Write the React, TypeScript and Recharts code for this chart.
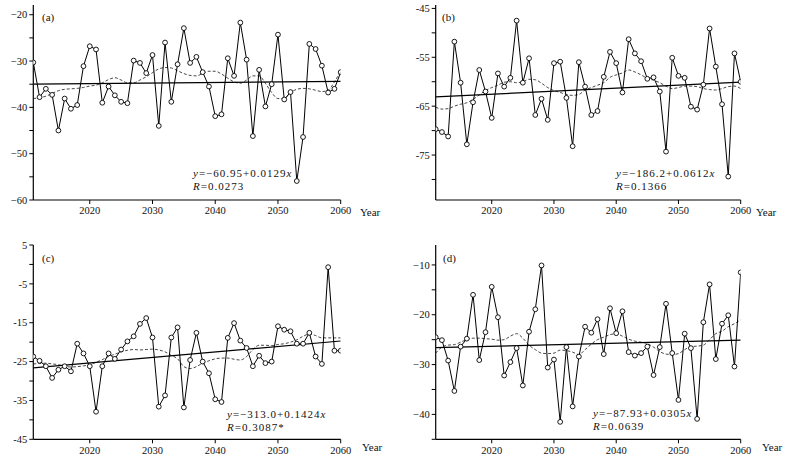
import React from 'react';
import { LineChart, Line, XAxis, YAxis } from 'recharts';

const years = [2011, 2012, 2013, 2014, 2015, 2016, 2017, 2018, 2019, 2020, 2021, 2022, 2023, 2024, 2025, 2026, 2027, 2028, 2029, 2030, 2031, 2032, 2033, 2034, 2035, 2036, 2037, 2038, 2039, 2040, 2041, 2042, 2043, 2044, 2045, 2046, 2047, 2048, 2049, 2050, 2051, 2052, 2053, 2054, 2055, 2056, 2057, 2058, 2059, 2060];

const seriesA = [-30.3, -37.8, -36.0, -37.3, -45.0, -38.1, -40.3, -39.5, -31.1, -26.8, -27.5, -39.0, -35.5, -37.4, -38.8, -39.1, -29.9, -30.4, -32.6, -28.7, -44.0, -26.0, -38.8, -30.7, -22.9, -30.4, -29.1, -32.4, -35.5, -41.9, -41.5, -29.4, -33.2, -21.7, -29.7, -46.2, -31.9, -39.8, -35.0, -24.3, -38.3, -36.7, -55.9, -46.4, -26.3, -27.4, -31.0, -36.8, -36.0, -32.4];
const smoothA = [-38.1, -37.9, -37.6, -37.0, -36.4, -36.1, -36.0, -35.9, -35.7, -35.4, -35.2, -34.7, -34.0, -33.6, -34.1, -34.7, -34.7, -34.1, -33.4, -32.5, -31.7, -31.4, -31.5, -32.1, -32.7, -33.1, -33.2, -32.7, -32.2, -32.2, -32.8, -33.7, -34.5, -34.8, -34.1, -33.2, -33.2, -34.8, -36.8, -38.1, -38.1, -36.8, -36.1, -35.9, -36.0, -36.3, -36.6, -36.3, -34.5, -32.1];
const trendA = [-35.0, -34.4];

const seriesB = [-69.7, -70.3, -71.2, -51.8, -60.2, -72.8, -64.2, -57.6, -62.0, -67.4, -58.3, -61.0, -59.2, -47.5, -60.2, -55.2, -66.8, -63.5, -67.8, -56.2, -55.9, -63.3, -73.2, -56.0, -61.0, -66.8, -66.0, -59.0, -53.9, -56.2, -62.2, -51.3, -54.2, -55.8, -59.4, -59.1, -62.0, -74.3, -55.1, -58.8, -59.2, -65.1, -65.7, -60.6, -49.1, -56.9, -64.6, -79.4, -54.2, -60.0];
const smoothB = [-65.2, -65.6, -65.5, -65.0, -64.6, -64.3, -63.6, -62.7, -61.8, -61.2, -60.7, -60.1, -60.0, -60.2, -60.0, -59.5, -59.6, -60.3, -61.2, -61.8, -62.2, -62.6, -62.8, -62.6, -61.7, -61.2, -60.7, -60.2, -59.1, -58.6, -58.2, -57.6, -58.0, -58.6, -59.3, -59.7, -60.2, -60.9, -61.4, -61.2, -60.9, -60.9, -61.0, -61.4, -61.6, -61.7, -61.4, -61.0, -60.9, -61.4];
const trendB = [-63.1, -60.1];

const seriesC = [-23.7, -24.8, -26.2, -29.2, -27.1, -26.2, -27.5, -20.4, -22.9, -26.2, -37.9, -26.2, -22.9, -24.3, -21.9, -19.8, -18.5, -15.3, -13.8, -18.8, -36.6, -33.7, -18.8, -16.2, -36.8, -24.6, -17.6, -25.0, -28.0, -34.7, -35.4, -18.9, -15.1, -19.6, -21.5, -26.2, -23.5, -25.4, -25.0, -15.9, -16.8, -17.2, -20.4, -20.4, -17.6, -23.7, -25.6, -0.7, -22.2, -22.2];
const smoothC = [-25.6, -25.5, -25.4, -25.6, -25.8, -26.2, -26.4, -26.3, -26.1, -25.8, -25.2, -24.5, -23.7, -23.1, -22.5, -22.1, -21.9, -22.0, -21.9, -21.8, -22.0, -22.5, -23.4, -24.3, -26.3, -26.8, -26.3, -25.4, -24.8, -24.3, -24.1, -24.1, -24.4, -24.6, -23.7, -21.9, -20.8, -20.8, -20.9, -20.6, -20.4, -20.0, -19.4, -18.5, -17.9, -18.3, -18.9, -18.9, -18.9, -18.9];
const trendC = [-26.6, -19.7];

const seriesD = [-24.5, -25.1, -29.2, -35.3, -26.4, -24.8, -16.0, -29.1, -23.5, -14.4, -20.5, -32.2, -29.5, -26.7, -34.2, -23.4, -18.9, -10.1, -30.6, -29.0, -41.5, -26.5, -38.4, -28.4, -22.4, -23.6, -20.9, -27.9, -18.7, -23.7, -19.3, -27.5, -28.2, -27.7, -26.4, -32.1, -26.5, -17.8, -27.7, -37.1, -23.8, -26.7, -40.9, -21.5, -13.9, -28.9, -21.8, -20.1, -30.4, -11.5];
const smoothD = [-27.7, -26.5, -26.1, -26.0, -25.5, -25.0, -24.7, -24.7, -24.8, -24.9, -25.1, -25.0, -24.3, -23.8, -24.7, -26.1, -27.0, -27.7, -27.8, -27.7, -27.1, -27.2, -27.5, -28.0, -27.0, -25.9, -25.0, -24.5, -24.0, -23.8, -24.3, -24.9, -25.3, -25.5, -25.8, -26.5, -27.4, -27.9, -28.0, -27.8, -27.0, -26.4, -26.3, -26.1, -25.0, -23.8, -23.3, -22.4, -21.8, -21.0];
const trendD = [-26.6, -25.1];

const trendYears = [2011, 2060];
const xTicks = [2020, 2030, 2040, 2050, 2060];

const yTicksA = [-60, -55, -50, -45, -40, -35, -30, -25, -20];
const yLabelsA = [-60, -50, -40, -30, -20];
const yTicksB = [-80, -75, -70, -65, -60, -55, -50, -45];
const yLabelsB = [-75, -65, -55, -45];
const yTicksC = [-45, -40, -35, -30, -25, -20, -15, -10, -5, 0, 5];
const yLabelsC = [-45, -35, -25, -15, -5, 5];
const yTicksD = [-45, -40, -35, -30, -25, -20, -15, -10];
const yLabelsD = [-40, -30, -20, -10];

const FONT = '"Liberation Serif", "Times New Roman", serif';

type PanelProps = {
  left: number;
  top: number;
  width: number;
  height: number;
  margin: { top: number; right: number; left: number; bottom: number };
  yAxisWidth: number;
  xAxisHeight: number;
  series: number[];
  smooth: number[];
  trend: number[];
  yDomain: [number, number];
  yTicks: number[];
  yLabels: number[];
  minus: string;
};

function Panel(p: PanelProps) {
  const data = years.map((year, i) => ({ year, v: p.series[i], s: p.smooth[i] }));
  const trendData = trendYears.map((year, i) => ({ year, t: p.trend[i] }));
  const fmtY = (v: number) => {
    if (!p.yLabels.includes(v)) return '';
    return v < 0 ? p.minus + Math.abs(v) : String(v);
  };
  const tickStyle = { fill: '#111', fontSize: 10.5, fontFamily: FONT };
  return (
    <div style={{ position: 'absolute', left: p.left, top: p.top }}>
      <LineChart width={p.width} height={p.height} data={data} margin={p.margin}>
        <XAxis
          xAxisId="b"
          dataKey="year"
          type="number"
          domain={[2011, 2060]}
          ticks={xTicks}
          height={p.xAxisHeight}
          tickSize={4}
          tickMargin={3}
          tick={tickStyle}
          stroke="#000"
          axisLine={{ stroke: '#000', strokeWidth: 1.2 }}
          tickLine={{ stroke: '#000' }}
          allowDataOverflow
        />
        <XAxis
          xAxisId="t"
          orientation="top"
          dataKey="year"
          type="number"
          domain={[2011, 2060]}
          height={0}
          tick={false}
          tickLine={false}
          axisLine={{ stroke: '#000', strokeWidth: 1.2 }}
        />
        <YAxis
          yAxisId="l"
          type="number"
          domain={p.yDomain}
          ticks={p.yTicks}
          tickFormatter={fmtY}
          width={p.yAxisWidth}
          tickSize={4}
          tickMargin={2}
          tick={tickStyle}
          axisLine={{ stroke: '#000', strokeWidth: 1.2 }}
          tickLine={{ stroke: '#000' }}
          interval={0}
          allowDataOverflow
        />
        <YAxis
          yAxisId="r"
          orientation="right"
          type="number"
          domain={p.yDomain}
          width={0}
          tick={false}
          tickLine={false}
          axisLine={{ stroke: '#000', strokeWidth: 1.2 }}
        />
        <Line
          xAxisId="b"
          yAxisId="l"
          dataKey="s"
          stroke="#333"
          strokeWidth={0.9}
          strokeDasharray="3 2"
          dot={false}
          type="monotone"
          isAnimationActive={false}
        />
        <Line
          xAxisId="b"
          yAxisId="l"
          data={trendData}
          dataKey="t"
          stroke="#000"
          strokeWidth={1.2}
          dot={false}
          isAnimationActive={false}
        />
        <Line
          xAxisId="b"
          yAxisId="l"
          dataKey="v"
          stroke="#000"
          strokeWidth={1}
          dot={{ r: 2.4, fill: '#fff', stroke: '#000', strokeWidth: 0.9 }}
          isAnimationActive={false}
        />
      </LineChart>
    </div>
  );
}

const txt = { fontFamily: FONT, fontSize: 11, fill: '#111' } as const;

function Eq(props: { x: number; y: number; a: string; b: string; r: string }) {
  return (
    <g style={txt}>
      <text x={props.x} y={props.y} dominantBaseline="central" letterSpacing={1}>
        <tspan fontStyle="italic">y</tspan>
        {'=' + props.a + '+' + props.b}
        <tspan fontStyle="italic">x</tspan>
      </text>
      <text x={props.x} y={props.y + 13} dominantBaseline="central" letterSpacing={1}>
        <tspan fontStyle="italic">R</tspan>
        {'=' + props.r}
      </text>
    </g>
  );
}

export default function App() {
  return (
    <div style={{ position: 'absolute', left: 0, top: 0, width: 788, height: 467, background: '#fff' }}>
      <Panel
        left={0} top={0} width={394} height={225}
        margin={{ top: 5, right: 53.3, left: 0, bottom: 0 }}
        yAxisWidth={33.3} xAxisHeight={25}
        series={seriesA} smooth={smoothA} trend={trendA}
        yDomain={[-60, -17.9]} yTicks={yTicksA} yLabels={yLabelsA} minus="−"
      />
      <Panel
        left={394} top={0} width={394} height={225}
        margin={{ top: 5, right: 47.3, left: 0, bottom: 0 }}
        yAxisWidth={41.7} xAxisHeight={25}
        series={seriesB} smooth={smoothB} trend={trendB}
        yDomain={[-84.2, -44.3]} yTicks={yTicksB} yLabels={yLabelsB} minus="-"
      />
      <Panel
        left={0} top={225} width={394} height={242}
        margin={{ top: 20, right: 53.3, left: 0, bottom: 0 }}
        yAxisWidth={33.3} xAxisHeight={27.7}
        series={seriesC} smooth={smoothC} trend={trendC}
        yDomain={[-45, 5]} yTicks={yTicksC} yLabels={yLabelsC} minus="-"
      />
      <Panel
        left={394} top={225} width={394} height={242}
        margin={{ top: 20, right: 47.3, left: 0, bottom: 0 }}
        yAxisWidth={41.7} xAxisHeight={27.7}
        series={seriesD} smooth={smoothD} trend={trendD}
        yDomain={[-45, -6]} yTicks={yTicksD} yLabels={yLabelsD} minus="−"
      />
      <svg width={788} height={467} style={{ position: 'absolute', left: 0, top: 0, pointerEvents: 'none' }}>
        <g style={txt}>
          <text x={42} y={17} dominantBaseline="central">(a)</text>
          <text x={442} y={17} dominantBaseline="central">(b)</text>
          <text x={42} y={258} dominantBaseline="central">(c)</text>
          <text x={443} y={258} dominantBaseline="central">(d)</text>
          <text x={360} y={212} dominantBaseline="central">Year</text>
          <text x={756} y={212} dominantBaseline="central">Year</text>
          <text x={362} y={447} dominantBaseline="central">Year</text>
          <text x={762} y={447} dominantBaseline="central">Year</text>
        </g>
        <Eq x={193} y={173} a="−60.95" b="0.0129" r="0.0273" />
        <Eq x={616} y={173} a="−186.2" b="0.0612" r="0.1366" />
        <Eq x={227} y={414} a="−313.0" b="0.1424" r="0.3087*" />
        <Eq x={593} y={413} a="−87.93" b="0.0305" r="0.0639" />
      </svg>
    </div>
  );
}
